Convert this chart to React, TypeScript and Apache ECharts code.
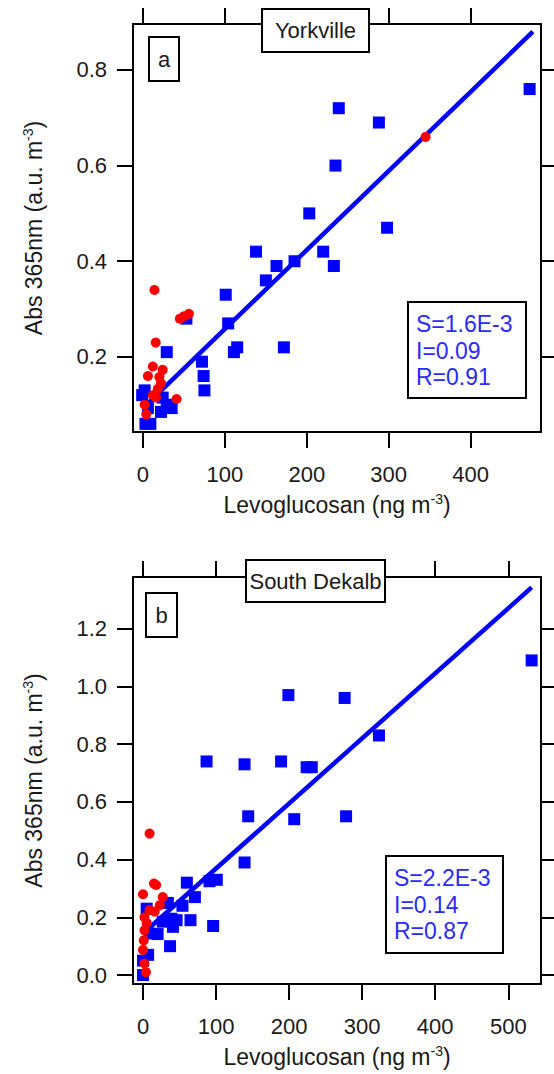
import React, { useEffect, useRef } from "react";
import * as echarts from "echarts";

// ---------- data ----------
const yorkBlue: [number, number][] = [
  [472, 0.76], [239, 0.72], [288, 0.69], [235, 0.6], [203, 0.5], [298, 0.47],
  [138, 0.42], [220, 0.42], [185, 0.4], [163, 0.39], [233, 0.39], [150, 0.36],
  [101, 0.33], [53, 0.28], [104, 0.27], [115, 0.22], [111, 0.21], [172, 0.22],
  [29, 0.21], [72, 0.19], [74, 0.16], [75, 0.13], [2, 0.13], [-1, 0.12],
  [24, 0.115], [29, 0.1], [35, 0.093], [22, 0.085], [6, 0.093], [3, 0.06], [9, 0.06],
];
const yorkRed: [number, number][] = [
  [14, 0.34], [45, 0.28], [50, 0.285], [56, 0.29], [15.5, 0.23], [12, 0.18],
  [24, 0.173], [6, 0.16], [20, 0.158], [22, 0.145], [18, 0.133], [41, 0.112],
  [12, 0.12], [16, 0.115], [2, 0.1], [4, 0.08], [345, 0.66],
];
const yorkFit: [number, number][] = [[0, 0.093], [476, 0.88]];

const dekalbBlue: [number, number][] = [
  [532, 1.09], [199, 0.97], [276, 0.96], [323, 0.83], [87, 0.74], [139, 0.73],
  [189, 0.74], [224, 0.72], [231, 0.72], [144, 0.55], [207, 0.54], [278, 0.55],
  [139, 0.39], [60, 0.32], [91, 0.325], [101, 0.33], [71, 0.27], [54, 0.24],
  [34, 0.25], [5, 0.23], [39, 0.195], [46, 0.19], [27, 0.185], [65, 0.19],
  [96, 0.17], [41, 0.167], [9, 0.144], [20, 0.142], [37, 0.1], [7, 0.07],
  [0, 0.05], [0, 0.0],
];
const dekalbRed: [number, number][] = [
  [9, 0.49], [15, 0.317], [18, 0.312], [0, 0.28], [27, 0.27], [16, 0.22],
  [2, 0.2], [5, 0.18], [2, 0.155], [1, 0.12], [0, 0.087], [2, 0.04], [4, 0.01],
  [9, 0.225], [23, 0.242],
];
const dekalbFit: [number, number][] = [[0, 0.144], [532, 1.343]];

const yorkXTicks = [0, 100, 200, 300, 400];
const yorkYTicks = [0.2, 0.4, 0.6, 0.8];
const dekalbXTicks = [0, 100, 200, 300, 400, 500];
const dekalbYTicks = [0, 0.2, 0.4, 0.6, 0.8, 1.0, 1.2];

const yorkStats = ["S=1.6E-3", "I=0.09", "R=0.91"];
const dekalbStats = ["S=2.2E-3", "I=0.14", "R=0.87"];

// ---------- styling ----------
const FONT = '"Liberation Sans", Arial, sans-serif';
const TXT = "#1a1a1a";
const BLUE = "#0000ff";
const RED = "#ff0000";
const STAT = "#2a2aff";

const rich = {
  sup: { fontSize: 14, fontFamily: FONT, color: TXT, verticalAlign: "top", lineHeight: 14 },
};

function xAxis(grid: number, pos: "bottom" | "top", min: number, max: number, ticks: number[], withName: boolean) {
  return {
    type: "value",
    gridIndex: grid,
    position: pos,
    min,
    max,
    axisLine: { show: true, onZero: false, lineStyle: { color: "#000", width: 2 } },
    axisTick: { show: true, inside: false, length: 16, customValues: ticks, lineStyle: { color: "#000", width: 2 } },
    axisLabel: {
      show: pos === "bottom",
      customValues: ticks,
      margin: 31,
      fontSize: 22,
      fontFamily: FONT,
      color: TXT,
      formatter: (v: number) => String(Math.round(v)),
    },
    splitLine: { show: false },
    name: withName ? "Levoglucosan (ng m{sup|-3})" : "",
    nameLocation: "middle",
    nameGap: 60,
    nameTextStyle: { fontSize: 23, fontFamily: FONT, color: TXT, lineHeight: 26, rich },
  };
}

function yAxis(grid: number, pos: "left" | "right", min: number, max: number, ticks: number[], withName: boolean) {
  return {
    type: "value",
    gridIndex: grid,
    position: pos,
    min,
    max,
    axisLine: { show: true, onZero: false, lineStyle: { color: "#000", width: 2 } },
    axisTick: { show: true, inside: false, length: 16, customValues: ticks, lineStyle: { color: "#000", width: 2 } },
    axisLabel: {
      show: pos === "left",
      customValues: ticks,
      margin: 26,
      fontSize: 22,
      fontFamily: FONT,
      color: TXT,
      formatter: (v: number) => v.toFixed(1),
    },
    splitLine: { show: false },
    name: withName ? "Abs 365nm (a.u. m{sup|-3})" : "",
    nameLocation: "middle",
    nameGap: 86,
    nameTextStyle: { fontSize: 23, fontFamily: FONT, color: TXT, lineHeight: 26, rich },
  };
}

function labelBox(x: number, y: number, w: number, h: number, text: string) {
  return {
    type: "group",
    z: 100,
    children: [
      { type: "rect", z: 100, shape: { x, y, width: w, height: h }, style: { fill: "#fff", stroke: "#000", lineWidth: 2 } },
      {
        type: "text",
        z: 101,
        x: x + w / 2,
        y: y + h / 2,
        style: { text, fontSize: 22, fontFamily: FONT, fill: TXT, align: "center", verticalAlign: "middle" },
      },
    ],
  };
}

function statBox(x: number, y: number, w: number, h: number, lines: string[]) {
  return {
    type: "group",
    z: 100,
    children: [
      { type: "rect", z: 100, shape: { x, y, width: w, height: h }, style: { fill: "#fff", stroke: "#000", lineWidth: 2 } },
      ...lines.map((t, i) => ({
        type: "text",
        z: 101,
        x: x + 8,
        y: y + 22 + i * 26.5,
        style: { text: t, fontSize: 23, fontFamily: FONT, fill: STAT, align: "left", verticalAlign: "middle" },
      })),
    ],
  };
}

export default function App() {
  const ref = useRef<HTMLDivElement>(null);

  useEffect(() => {
    document.body.style.margin = "0";
    if (!ref.current) return;
    const chart = echarts.init(ref.current, undefined, { renderer: "svg" });

    const yorkX: [number, number] = [-12.2, 485.9];
    const yorkY: [number, number] = [0.043, 0.896];
    const dekX: [number, number] = [-13.7, 544.8];
    const dekY: [number, number] = [-0.031, 1.379];

    const blueStyle = { color: BLUE, opacity: 1 };
    const redStyle = { color: RED, opacity: 1 };

    const option = {
      animation: false,
      backgroundColor: "#fff",
      grid: [
        { left: 133, top: 24, width: 408, height: 408 },
        { left: 133, top: 577, width: 408, height: 407 },
      ],
      xAxis: [
        xAxis(0, "bottom", yorkX[0], yorkX[1], yorkXTicks, true),
        xAxis(0, "top", yorkX[0], yorkX[1], yorkXTicks, false),
        xAxis(1, "bottom", dekX[0], dekX[1], dekalbXTicks, true),
        xAxis(1, "top", dekX[0], dekX[1], dekalbXTicks, false),
      ],
      yAxis: [
        yAxis(0, "left", yorkY[0], yorkY[1], yorkYTicks, true),
        yAxis(0, "right", yorkY[0], yorkY[1], yorkYTicks, false),
        yAxis(1, "left", dekY[0], dekY[1], dekalbYTicks, true),
        yAxis(1, "right", dekY[0], dekY[1], dekalbYTicks, false),
      ],
      series: [
        { type: "scatter", xAxisIndex: 0, yAxisIndex: 0, data: yorkBlue, symbol: "rect", symbolSize: 12, itemStyle: blueStyle, z: 2 },
        { type: "line", xAxisIndex: 0, yAxisIndex: 0, data: yorkFit, showSymbol: false, symbol: "none", lineStyle: { color: BLUE, width: 4.5, opacity: 1 }, z: 3 },
        { type: "scatter", xAxisIndex: 0, yAxisIndex: 0, data: yorkRed, symbol: "circle", symbolSize: 10, itemStyle: redStyle, z: 4 },
        { type: "scatter", xAxisIndex: 2, yAxisIndex: 2, data: dekalbBlue, symbol: "rect", symbolSize: 12, itemStyle: blueStyle, z: 2 },
        { type: "line", xAxisIndex: 2, yAxisIndex: 2, data: dekalbFit, showSymbol: false, symbol: "none", lineStyle: { color: BLUE, width: 4.5, opacity: 1 }, z: 3 },
        { type: "scatter", xAxisIndex: 2, yAxisIndex: 2, data: dekalbRed, symbol: "circle", symbolSize: 10, itemStyle: redStyle, z: 4 },
      ],
      graphic: [
        labelBox(262, 9, 107, 43, "Yorkville"),
        labelBox(149, 37, 30, 44, "a"),
        statBox(408, 302, 118, 96, yorkStats),
        labelBox(246, 560, 139, 42, "South Dekalb"),
        labelBox(146, 593, 31, 44, "b"),
        statBox(386, 856, 117, 97, dekalbStats),
      ],
    };

    chart.setOption(option as any);
    return () => chart.dispose();
  }, []);

  return <div ref={ref} style={{ position: "absolute", left: 0, top: 0, width: 554, height: 1074 }} />;
}
